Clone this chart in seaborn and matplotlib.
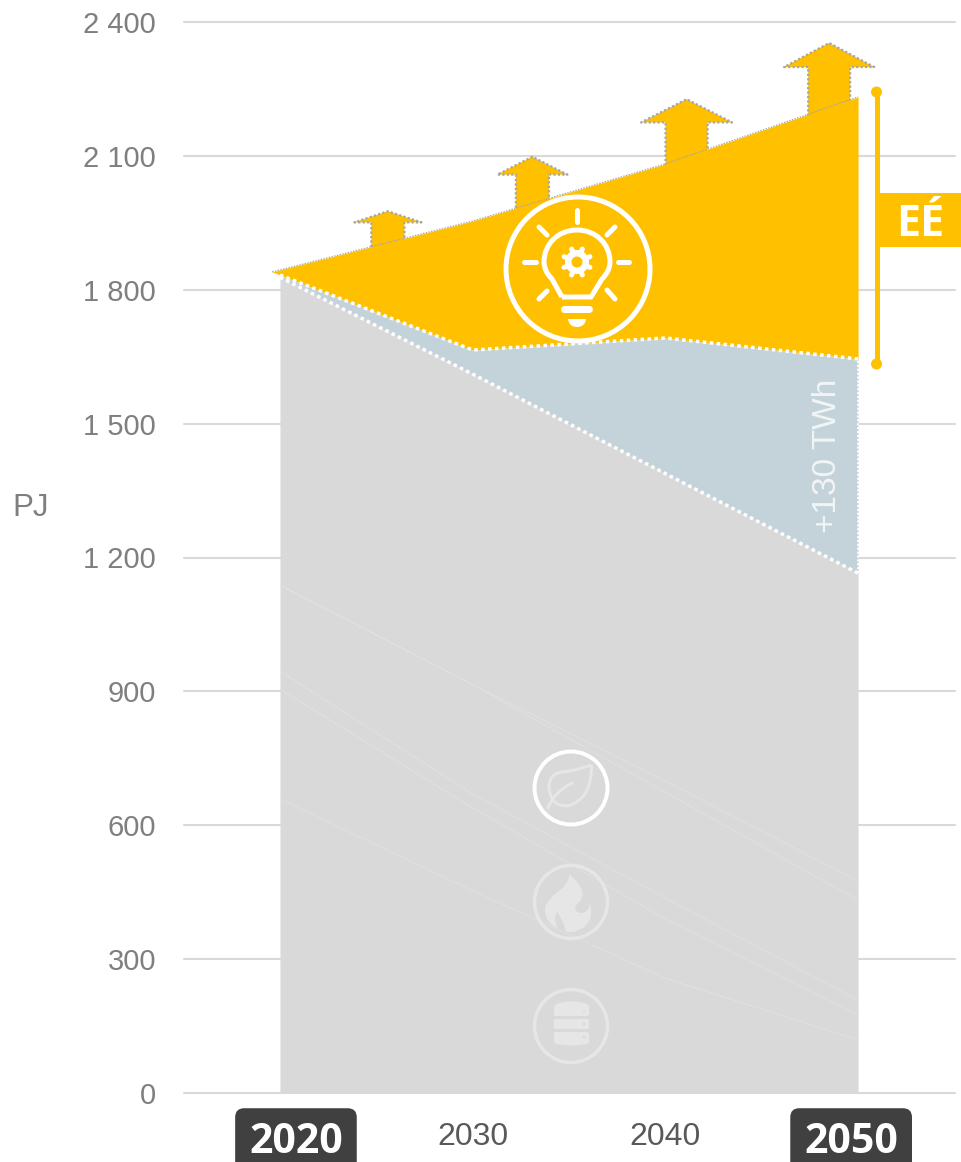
import numpy as np
import pandas as pd
import seaborn as sns
import matplotlib.pyplot as plt
from matplotlib.path import Path
from matplotlib.patches import Circle, Ellipse, FancyBboxPatch, PathPatch, Rectangle, Wedge

# Data (PJ)
years = [2020, 2030, 2040, 2050]
yellow_years = [2019.6, 2030, 2040, 2050]
yellow_top = [1840, 1954, 2082, 2232]
yellow_bottom = [1840, 1665, 1692, 1645]
blue_top = [1833, 1665, 1692, 1645]
gray_top = [1828, 1611, 1388, 1165]

line_a = [1138, 915, 699, 475]
line_b = [1138, 915, 674, 432]
line_c = [945, 670, 437, 208]
line_d = [905, 639, 390, 175]
line_e = [659, 453, 257, 119]

arrow_years = [2025.6, 2033.1, 2041.1, 2048.5]
arrow_tips = [1976, 2098, 2227, 2353]
arrow_head_half = [1.74, 1.82, 2.36, 2.34]
arrow_shaft_half = [0.86, 0.86, 1.09, 1.09]
arrow_head_height = [25, 40, 52, 54]

y_ticks = [0, 300, 600, 900, 1200, 1500, 1800, 2100, 2400]
y_labels = ["0", "300", "600", "900", "1 200", "1 500", "1 800", "2 100", "2 400"]
x_tick_pos = [2020.83, 2030, 2040, 2049.64]
x_labels = ["2020", "2030", "2040", "2050"]

YELLOW = "#FFC000"
BLUE = "#C4D3DA"
GRAY = "#D9D9D9"
ICON = "#E6E6E6"
DARK = "#404040"
TEXT = "#7F7F7F"

sns.set_style("whitegrid")
plt.rcParams["font.family"] = ["Liberation Sans", "DejaVu Sans"]

W, H = 961, 1162
fig = plt.figure(figsize=(W / 100, H / 100), dpi=100, facecolor="white")
ax = fig.add_axes([184 / W, 1 - 1093 / H, (955 - 184) / W, (1093 - 22) / H])
ax.set_xlim(2015.02, 2055.03)
ax.set_ylim(0, 2400)

# areas
ax.fill_between(years, 0, gray_top, color=GRAY, lw=0, zorder=2)
ax.fill_between(years, gray_top, blue_top, color=BLUE, lw=0, zorder=2)

# arrows, the yellow area covers their feet
for yr, tip, hh, sh, hh_pj in zip(arrow_years, arrow_tips, arrow_head_half, arrow_shaft_half, arrow_head_height):
    base = np.interp(yr, yellow_years, yellow_top) - 20
    neck = tip - hh_pj
    xs = [yr - sh, yr - sh, yr - hh, yr, yr + hh, yr + sh, yr + sh]
    ys = [base, neck, neck, tip, neck, neck, base]
    ax.fill(xs, ys, color=YELLOW, lw=0, zorder=3)
    ax.plot(xs, ys, color="#A6A6A6", lw=1.6, ls=(0, (1, 1)), zorder=3)

sns.lineplot(x=yellow_years, y=yellow_top, color="#A6A6A6", lw=1.0, ls=(0, (1, 1)), ax=ax, zorder=3)
ax.fill_between(yellow_years, yellow_bottom, yellow_top, color=YELLOW, lw=0, zorder=4)

# faint lines inside the grey block
lines = pd.DataFrame({
    "year": years * 5,
    "pj": line_a + line_b + line_c + line_d + line_e,
    "name": sum([[n] * 4 for n in "abcde"], []),
})
sns.lineplot(data=lines, x="year", y="pj", units="name", estimator=None, color="#E3E3E3", lw=0.5, ax=ax, zorder=5)

# white dotted borders
dots = (0, (1, 1))
sns.lineplot(x=years, y=blue_top, color="white", lw=2.5, ls=dots, ax=ax, zorder=6)
sns.lineplot(x=years, y=gray_top, color="white", lw=2.5, ls=dots, ax=ax, zorder=6)
ax.plot([2050, 2050], [gray_top[-1], blue_top[-1]], color="white", lw=1.4, ls=dots, zorder=6)

# axes text
ax.grid(False, axis="x")
ax.grid(True, axis="y", color=GRAY, lw=1.5)
ax.set_axisbelow(True)
for gl in ax.get_ygridlines():
    gl.set_clip_on(False)
for s in ax.spines.values():
    s.set_visible(False)
ax.set_yticks(y_ticks, y_labels)
ax.tick_params(axis="y", length=0, pad=20, labelsize=21, labelcolor=TEXT)
ax.set_xticks(x_tick_pos, x_labels)
ax.tick_params(axis="x", length=0, pad=21, labelsize=23, labelcolor="#595959")
ax.set_xlabel("")
ax.set_ylabel("PJ", rotation=0, fontsize=22.5, color=TEXT, va="center", ha="center")
ax.yaxis.set_label_coords((31 - 184) / (955 - 184), (1093 - 508) / (1093 - 22))

for i in (0, 3):
    lab = ax.get_xticklabels()[i]
    lab.set_family("Open Sans")
    lab.set_fontsize(29.5)
    lab.set_fontweight("bold")
    lab.set_color("white")
    lab.set_bbox(dict(boxstyle="round,pad=0.34,rounding_size=0.22", fc=DARK, ec="none"))

# overlay in picture pixels for the icons and the bracket
ov = fig.add_axes([0, 0, 1, 1], zorder=10)
ov.set_xlim(0, W)
ov.set_ylim(H, 0)
ov.axis("off")


def px(v):
    return v * 72 / 100


def stroke(pts, color, w):
    xs, ys = zip(*pts)
    ov.plot(xs, ys, color=color, lw=px(w), solid_capstyle="round")


def curve(pts, codes, **kw):
    ov.add_patch(PathPatch(Path(pts, codes), **kw))


# bracket and flag
ov.plot([876.5, 876.5], [92, 364], color=YELLOW, lw=px(5), solid_capstyle="butt")
ov.add_patch(Circle((876.5, 92), 5.5, color=YELLOW, lw=0))
ov.add_patch(Circle((876.5, 364), 5.5, color=YELLOW, lw=0))
ov.add_patch(Rectangle((876.5, 193), 85, 54, color=YELLOW, lw=0))
ov.text(920, 236, "EÉ", color="white", fontsize=31, fontweight="bold", family="Open Sans", ha="center", va="baseline")
ov.text(828, 456, "+130 TWh", color="#F2F5F6", fontsize=24, rotation=90, ha="center", va="center")

# bulb icon
cx, cy = 577, 262
ov.add_patch(Circle((578, 269), 72, fc="none", ec="white", lw=px(5)))
for p0, p1 in [((577, 210), (577, 222)), ((539, 227), (547, 235)), ((615, 227), (607, 235)),
               ((524, 262), (536, 262)), ((618, 262), (629, 262)), ((539, 299), (547, 291)),
               ((615, 299), (607, 290)), ((564, 309), (589, 309))]:
    stroke([p0, p1], "white", 5 if p0[1] != 309 else 7)
C3, C4, M, L = Path.CURVE3, Path.CURVE4, Path.MOVETO, Path.LINETO
bulb = [(562, 297), (552, 279), (544, 271), (544, 262), (544, 244), (558, 230), (577, 230),
        (596, 230), (610, 244), (610, 262), (610, 271), (602, 279), (591, 297), (562, 297)]
curve(bulb, [M, L, C3, C3, C4, C4, C4, C4, C4, C4, C3, C3, L, L], fc="none", ec="white", lw=px(5), joinstyle="round")
curve([(568, 319), (586, 319), (585, 327), (577, 327), (569, 327), (568, 319)], [M, L, C3, C3, C3, C3], fc="white", ec="none")
for a in np.arange(0, 360, 45):
    r = np.radians(a + 22.5)
    stroke([(cx + 9 * np.cos(r), cy + 9 * np.sin(r)), (cx + 14 * np.cos(r), cy + 14 * np.sin(r))], "white", 5)
ov.add_patch(Wedge((cx, cy), 12, 0, 360, width=6.5, color="white", lw=0))

# leaf icon
ov.add_patch(Circle((571, 788), 36.5, fc="none", ec="white", lw=px(4)))
leaf = [(591.5, 765), (575, 771), (562, 772), (549, 774), (549, 787), (550, 806), (567, 806),
        (592, 800), (591.5, 765)]
curve(leaf, [M, C3, C3, C3, C3, C3, C3, C3, C3], fc="none", ec=ICON, lw=px(3))
curve([(548, 808), (553, 793), (572, 783)], [M, C3, C3], fc="none", ec=ICON, lw=px(3), capstyle="round")

# flame icon
ov.add_patch(Circle((571, 902), 36.5, fc="none", ec=ICON, lw=px(3.5)))
flame = [(569, 874), (592, 893), (576, 905), (573, 913), (582, 913), (589, 912), (590, 903),
         (596, 926), (573, 932), (566, 932), (563, 920), (557, 912), (553, 920), (558, 928),
         (547, 925), (545, 912), (543, 905), (556, 893), (570, 884), (569, 874)]
curve(flame, [M, C3, C3, C3, C3, C3, C3, C3, C3, L, C3, C3, C3, C3, C3, C3, C3, C3, C3, C3], fc=ICON, ec="none")

# database icon
ov.add_patch(Circle((571, 1026), 36.5, fc="none", ec=ICON, lw=px(3.5)))
for top in (1006, 1019, 1032):
    ov.add_patch(FancyBboxPatch((554, top), 35, 10, boxstyle="round,pad=0,rounding_size=2", fc=ICON, ec="none"))
    ov.add_patch(Circle((584, top + 5), 1.3, color=GRAY, lw=0))
ov.add_patch(Ellipse((571.5, 1007), 35.5, 11, color=ICON, lw=0))
ov.add_patch(Ellipse((571.5, 1042), 35.5, 7, color=ICON, lw=0))

fig.savefig("out.png", dpi=100)
